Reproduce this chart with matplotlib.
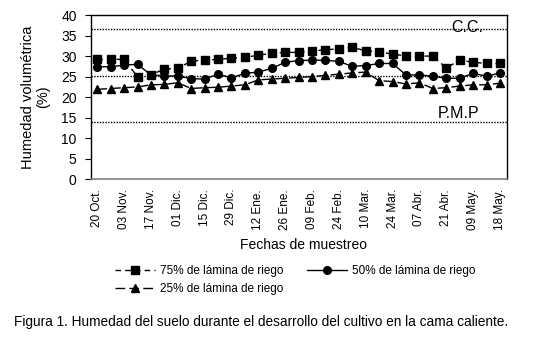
import matplotlib
matplotlib.use("Agg")
import matplotlib.pyplot as plt

plt.rcParams['font.family'] = ['Liberation Sans', 'DejaVu Sans']

fechas = ["20 Oct.", "03 Nov.", "17 Nov.", "01 Dic.", "15 Dic.", "29 Dic.",
          "12 Ene.", "26 Ene.", "09 Feb.", "24 Feb.", "10 Mar.", "24 Mar.",
          "07 Abr.", "21 Abr.", "09 May.", "18 May."]

# weekly samples (31), labels every second sample
lamina_75 = [29.2, 29.2, 29.2, 25.0, 25.5, 26.8, 27.0, 28.8, 29.0, 29.2,
             29.5, 29.7, 30.2, 30.7, 30.9, 30.9, 31.3, 31.5, 31.8, 32.1,
             31.3, 31.0, 30.5, 30.0, 30.0, 30.0, 27.1, 29.0, 28.5, 28.2, 28.2]
lamina_50 = [27.4, 27.4, 27.8, 28.0, 25.4, 25.2, 25.1, 24.5, 24.4, 25.6,
             24.7, 25.8, 26.1, 27.0, 28.5, 28.9, 29.0, 29.0, 28.7, 27.5,
             27.7, 28.2, 28.2, 25.4, 25.4, 25.1, 24.6, 24.6, 25.8, 25.1, 25.9]
lamina_25 = [21.9, 22.1, 22.3, 22.5, 23.0, 23.1, 23.5, 22.1, 22.3, 22.4,
             22.7, 23.0, 24.2, 24.4, 24.6, 24.8, 25.0, 25.3, 25.6, 25.9,
             26.1, 24.0, 23.8, 23.2, 23.5, 22.1, 22.3, 22.7, 23.0, 23.0, 23.4]

cc = 36.7      # capacidad de campo
medio = 25.2
pmp = 14.0     # punto de marchitez permanente

fig = plt.figure(figsize=(5.39, 3.5), dpi=100)
ax = fig.add_axes([0.168, 0.488, 0.772, 0.469])

x = list(range(len(lamina_75)))

for nivel in (cc, medio, pmp):
    ax.axhline(nivel, color='black', lw=1.0, ls=(0, (1, 1)), zorder=1)

l75, = ax.plot(x, lamina_75, color='black', lw=1.0, ls=(0, (4, 3)),
               marker='s', ms=5.5, label='75% de lámina de riego', zorder=3)
l50, = ax.plot(x, lamina_50, color='black', lw=1.0, ls='-',
               marker='o', ms=5.5, label='50% de lámina de riego', zorder=3)
l25, = ax.plot(x, lamina_25, color='black', lw=1.0, ls=(0, (7, 3)),
               marker='^', ms=5.5, label='25% de lámina de riego', zorder=3)

ax.set_xlim(-0.5, len(x) - 0.5)
ax.set_ylim(0, 40)
ax.set_yticks(range(0, 41, 5))
ax.set_xticks(x[::2])
ax.set_xticklabels(fechas, rotation=90, fontsize=8.5)
ax.tick_params(axis='x', length=0, pad=7)
ax.tick_params(axis='y', direction='out', length=4, labelsize=10, pad=6)

for s in ('left', 'top', 'right'):
    ax.spines[s].set_color('black')
    ax.spines[s].set_linewidth(1.0)
ax.spines['bottom'].set_color('#808080')
ax.spines['bottom'].set_linewidth(1.2)

ax.text(26.4, cc + 0.3, 'C.C.', fontsize=11.5, ha='left', va='center', zorder=4)
ax.text(25.4, pmp + 2.1, 'P.M.P', fontsize=11.5, ha='left', va='center')

ax.set_ylabel('Humedad volumétrica\n(%)', fontsize=10.5, linespacing=1.05, labelpad=8)
ax.set_xlabel('Fechas de muestreo', fontsize=10, labelpad=6)
ax.xaxis.label.set_x(0.512)

fig.legend(handles=[l75, l25, l50], ncol=2, frameon=False, fontsize=8.5,
           loc='upper left', bbox_to_anchor=(0.205, 0.257),
           handlelength=3.4, columnspacing=2.0, handletextpad=0.4,
           labelspacing=0.55, borderaxespad=0)

fig.text(0.026, 0.081, 'Figura 1. Humedad del suelo durante el desarrollo del cultivo en la cama caliente.',
         fontsize=9.8, ha='left', va='center')

fig.savefig('out.png', dpi=100)
